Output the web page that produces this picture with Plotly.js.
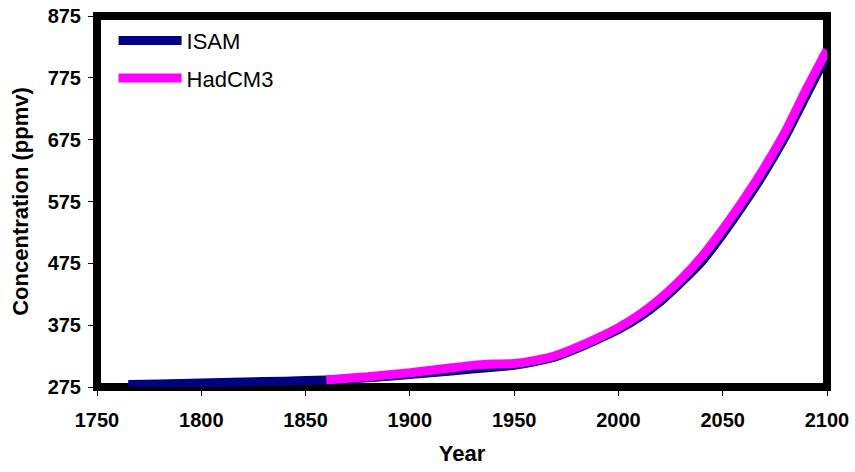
<!DOCTYPE html>
<html>
<head>
<meta charset="utf-8">
<script src="https://cdn.plot.ly/plotly-3.0.1.min.js"></script>
<style>html,body{margin:0;padding:0;background:#fff;}#chart{width:855px;height:472px;}</style>
</head>
<body>
<div id="chart"></div>
<script>
// ISAM model CO2 concentration (ppmv)
const isamYears = [1765, 1780, 1800, 1820, 1840, 1860, 1880, 1900, 1920, 1940, 1950, 1960, 1970, 1980, 1990, 2000, 2010, 2020, 2030, 2040, 2050, 2060, 2070, 2080, 2090, 2100];
const isamValues = [279, 280, 281.5, 283, 284.5, 286.5, 290, 295, 301, 307, 310, 316, 324, 337, 352, 368, 388, 413, 444, 478, 522, 570, 622, 680, 746, 812];
// HadCM3 CO2 concentration (ppmv)
const hadYears = [1860, 1870, 1880, 1890, 1900, 1910, 1920, 1930, 1940, 1950, 1960, 1970, 1980, 1990, 2000, 2010, 2020, 2030, 2040, 2050, 2060, 2070, 2080, 2090, 2100];
const hadValues = [286.5, 289, 291.5, 295, 298, 302, 306, 310, 312, 313, 318, 326, 339, 354, 371, 392, 418, 449, 486, 530, 578, 630, 688, 756, 820];
const xTicks = [1750, 1800, 1850, 1900, 1950, 2000, 2050, 2100];
const yTicks = [275, 375, 475, 575, 675, 775, 875];

const FONT = 'Liberation Sans, Arial, sans-serif';

const traces = [
  {x: isamYears, y: isamValues, name: 'ISAM', legendgroup: 'a', mode: 'lines', line: {color: '#000080', width: 9, shape: 'spline', smoothing: 0.6}},
  {x: hadYears, y: hadValues, name: 'HadCM3', legendgroup: 'b', mode: 'lines', line: {color: '#FF00FF', width: 9, shape: 'spline', smoothing: 0.6}}
];

const tickFont = {family: FONT, size: 20, color: '#000', weight: 'bold'};

const layout = {
  width: 855, height: 472,
  margin: {l: 97, r: 28, t: 16, b: 85},
  paper_bgcolor: '#fff', plot_bgcolor: '#fff',
  showlegend: true,
  legend: {x: 0.0227, y: 0.99, xanchor: 'left', yanchor: 'top', bgcolor: 'rgba(0,0,0,0)',
    font: {family: FONT, size: 22, color: '#000'}, itemwidth: 63, tracegroupgap: 6},
  xaxis: {
    range: [1750, 2100], tickvals: xTicks, ticktext: xTicks.map(String),
    ticks: 'outside', ticklen: 8, tickwidth: 1, tickcolor: '#000',
    showgrid: false, zeroline: false, showline: false,
    tickfont: tickFont, ticklabelstandoff: 7,
    title: {text: '<b>Year</b>', font: {family: FONT, size: 22, color: '#000'}, standoff: 15}
  },
  yaxis: {
    range: [275, 875], tickvals: yTicks, ticktext: yTicks.map(String),
    ticks: 'outside', ticklen: 8, tickwidth: 1, tickcolor: '#000',
    showgrid: false, zeroline: false, showline: false,
    tickfont: tickFont, ticklabelstandoff: 3,
    title: {text: '<b>Concentration (ppmv)</b>', font: {family: FONT, size: 22, color: '#000'}, standoff: 12}
  },
  shapes: [{type: 'rect', xref: 'paper', yref: 'paper', x0: 0, x1: 1, y0: 0, y1: 1,
    line: {color: '#000', width: 8}, layer: 'below'}]
};

Plotly.newPlot('chart', traces, layout, {displayModeBar: false, staticPlot: true});
</script>
</body>
</html>
